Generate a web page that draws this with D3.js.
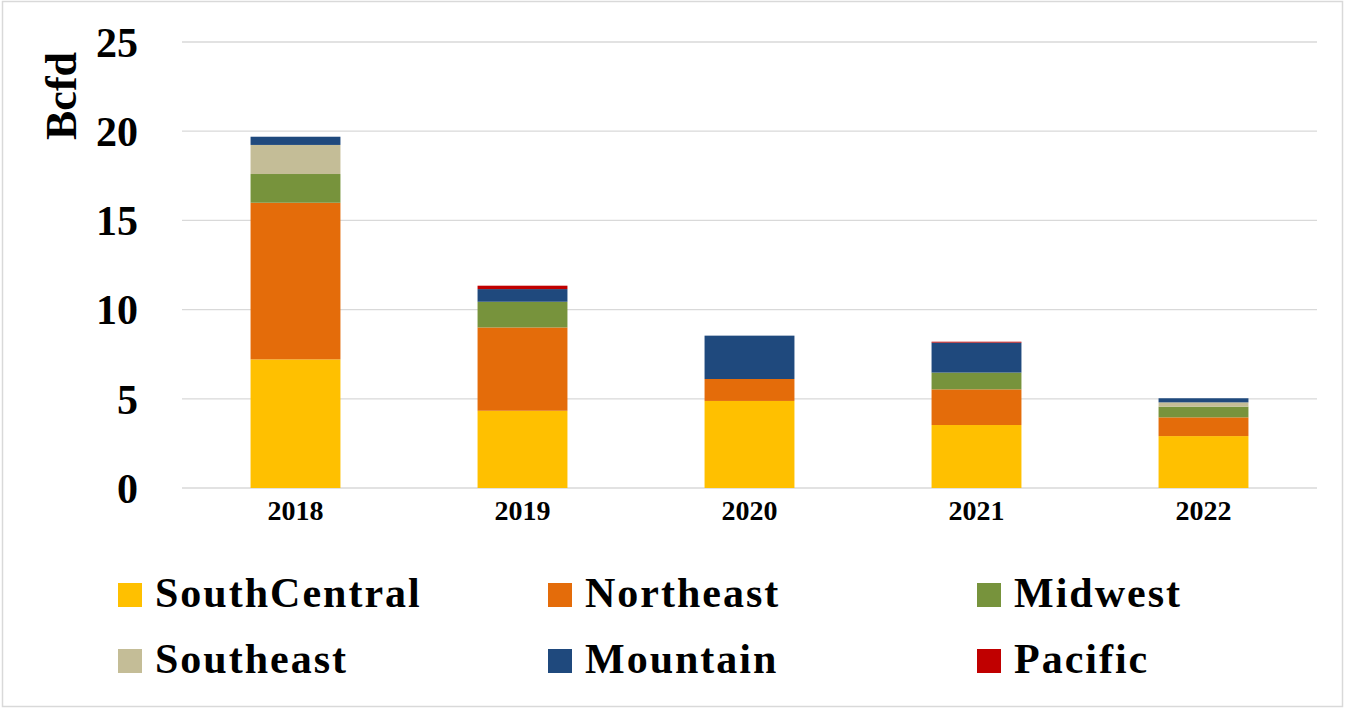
<!DOCTYPE html>
<html>
<head>
<meta charset="utf-8">
<script src="https://cdn.jsdelivr.net/npm/d3@7"></script>
<style>
  html, body { margin: 0; padding: 0; background: #fff; }
  svg { display: block; }
  text { font-family: "Liberation Serif", "Times New Roman", serif; font-weight: bold; fill: #000; }
</style>
</head>
<body>
<svg id="chart" width="1346" height="710"></svg>
<script>
// Years on the x axis
const years = ["2018", "2019", "2020", "2021", "2022"];

// Regional values, Bcfd, one entry per year (stack order bottom to top)
const southCentral = [7.21, 4.33, 4.88, 3.53, 2.91];
const northeast    = [8.78, 4.67, 1.23, 2.00, 1.05];
const midwest      = [1.61, 1.44, 0.00, 0.94, 0.60];
const southeast    = [1.63, 0.00, 0.00, 0.00, 0.24];
const mountain     = [0.46, 0.71, 2.43, 1.68, 0.23];
const pacific      = [0.00, 0.19, 0.00, 0.05, 0.00];

const seriesNames  = ["SouthCentral", "Northeast", "Midwest", "Southeast", "Mountain", "Pacific"];
const seriesValues = [southCentral, northeast, midwest, southeast, mountain, pacific];
const seriesColors = ["#FFC000", "#E46C0A", "#77933C", "#C4BD97", "#1F497D", "#C00000"];

const yTicks = [0, 5, 10, 15, 20, 25];

const svg = d3.select("#chart");

// Outer frame
svg.append("rect")
  .attr("x", 2.5).attr("y", 1.5)
  .attr("width", 1340).attr("height", 705)
  .attr("fill", "none").attr("stroke", "#d9d9d9").attr("stroke-width", 1.5);

const plot = { left: 182, right: 1317, top: 42, bottom: 488 };

const x = d3.scaleBand()
  .domain(years)
  .range([plot.left, plot.right])
  .paddingInner(0.604)
  .paddingOuter(0.302);

const y = d3.scaleLinear()
  .domain([0, 25])
  .range([plot.bottom, plot.top]);

// Horizontal gridlines
svg.append("g")
  .selectAll("line")
  .data(yTicks)
  .join("line")
  .attr("x1", plot.left).attr("x2", plot.right)
  .attr("y1", d => y(d)).attr("y2", d => y(d))
  .attr("stroke", "#d9d9d9").attr("stroke-width", 1.3);

// Y axis labels
const yAxis = svg.append("g")
  .attr("transform", `translate(${plot.left - 44},0)`)
  .call(d3.axisLeft(y).tickValues(yTicks).tickSize(0).tickPadding(0));
yAxis.select(".domain").remove();
yAxis.selectAll("text")
  .style("font-family", "'Liberation Serif', serif")
  .style("font-weight", "bold")
  .style("font-size", "42px")
  .attr("fill", "#000")
  .attr("dy", "0.34em");

// Y axis title
svg.append("text")
  .attr("transform", "translate(76,96) rotate(-90)")
  .attr("text-anchor", "middle")
  .style("font-size", "44px")
  .text("Bcfd");

// Stacked bars
const table = years.map((yr, i) => {
  const row = { year: yr };
  seriesNames.forEach((s, k) => { row[s] = seriesValues[k][i]; });
  return row;
});
const stacked = d3.stack().keys(seriesNames)(table);

svg.append("g")
  .selectAll("g")
  .data(stacked)
  .join("g")
  .attr("fill", (d, k) => seriesColors[k])
  .selectAll("rect")
  .data(d => d)
  .join("rect")
  .attr("x", d => x(d.data.year))
  .attr("width", x.bandwidth())
  .attr("y", d => y(d[1]))
  .attr("height", d => y(d[0]) - y(d[1]));

// X axis labels
const xAxis = svg.append("g")
  .attr("transform", `translate(0,${plot.bottom + 12})`)
  .call(d3.axisBottom(x).tickSize(0).tickPadding(0));
xAxis.select(".domain").remove();
xAxis.selectAll("text")
  .style("font-family", "'Liberation Serif', serif")
  .style("font-weight", "bold")
  .style("font-size", "28px")
  .attr("fill", "#000")
  .attr("dy", "0.71em");

// Legend: two rows of three
const legend = svg.append("g");
const colX = [118, 548, 977];
const rowY = [583, 649];
seriesNames.forEach((name, k) => {
  const cx = colX[k % 3];
  const ry = rowY[Math.floor(k / 3)];
  legend.append("rect")
    .attr("x", cx).attr("y", ry)
    .attr("width", 24).attr("height", 24)
    .attr("fill", seriesColors[k]);
  legend.append("text")
    .attr("x", cx + 37).attr("y", ry + 24)
    .style("font-size", "42px")
    .style("letter-spacing", "2px")
    .text(name);
});
</script>
</body>
</html>
